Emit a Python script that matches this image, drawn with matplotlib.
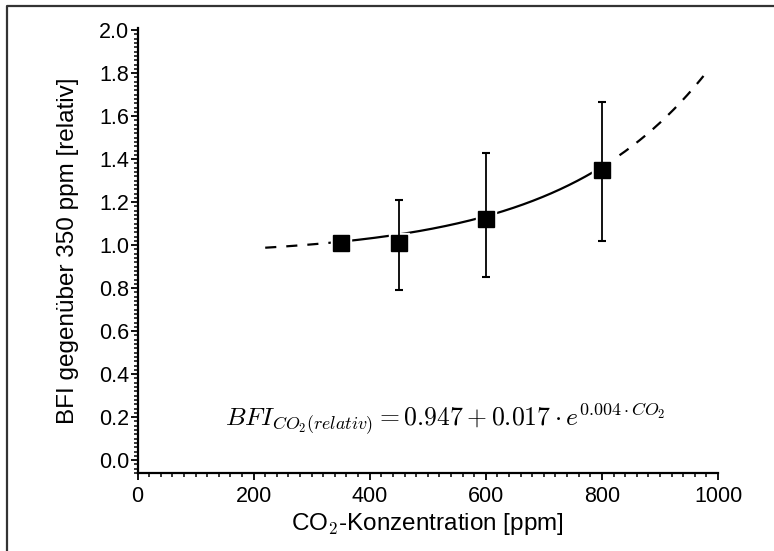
import numpy as np
import matplotlib
matplotlib.use("Agg")
import matplotlib.pyplot as plt
from matplotlib.lines import Line2D
from matplotlib.ticker import MultipleLocator

plt.rcParams['font.family'] = ['Liberation Sans', 'DejaVu Sans']
plt.rcParams['mathtext.fontset'] = 'cm'

# Data
co2 = [350, 450, 600, 800]
bfi = [1.01, 1.01, 1.12, 1.35]
err_low = [1.01, 0.79, 0.85, 1.02]
err_high = [1.01, 1.21, 1.43, 1.665]

# Fitted curve parameters (from the equation shown)
fit_a, fit_b, fit_c = 0.947, 0.017, 0.004
fit_start, fit_lo, fit_hi, fit_end = 220, 350, 800, 975

xticks = [0, 200, 400, 600, 800, 1000]
yticks = [0.0, 0.2, 0.4, 0.6, 0.8, 1.0, 1.2, 1.4, 1.6, 1.8, 2.0]

fig = plt.figure(figsize=(7.74, 5.51), dpi=100)
ax = fig.add_axes([137.5/774, (551-473)/551, (718-137.5)/774, (473-28)/551])

def fit(x):
    return fit_a + fit_b*np.exp(fit_c*x)

x1 = np.linspace(fit_start, fit_lo, 100)
x2 = np.linspace(fit_lo, fit_hi, 300)
x3 = np.linspace(fit_hi, fit_end, 200)
ax.plot(x1, fit(x1), color='black', lw=1.6, dashes=(5, 4.5), zorder=1)
ax.plot(x2, fit(x2), color='black', lw=1.6, zorder=1)
ax.plot(x3, fit(x3), color='black', lw=1.6, dashes=(5, 4.5), zorder=1)

bfi_a = np.array(bfi)
yerr = [bfi_a - np.array(err_low), np.array(err_high) - bfi_a]
# white halo around markers
ax.plot(co2, bfi, linestyle='none', marker='s', markersize=14, color='white', zorder=2)
ax.errorbar(co2, bfi, yerr=yerr, fmt='none', ecolor='black', elinewidth=1.3,
            capsize=3, capthick=1.5, zorder=3)
ax.plot(co2, bfi, linestyle='none', marker='s', markersize=11, color='black', zorder=4)

ax.set_xlim(0, 1000)
ax.set_ylim(-0.06, 2.01)
ax.set_xticks(xticks)
ax.set_yticks(yticks)
ax.set_yticklabels([f"{v:.1f}" for v in yticks])
ax.xaxis.set_minor_locator(MultipleLocator(20))
ax.yaxis.set_minor_locator(MultipleLocator(0.02))
ax.tick_params(which='major', direction='out', length=5, width=1.3, labelsize=15.5)
ax.tick_params(axis='x', which='major', pad=4)
ax.tick_params(axis='y', which='major', pad=1)
ax.tick_params(which='minor', direction='out', length=3, width=1.1)

for s in ['top', 'right']:
    ax.spines[s].set_visible(False)
for s in ['left', 'bottom']:
    ax.spines[s].set_linewidth(1.6)

ax.set_xlabel(r'CO$_{\mathsf{2}}$-Konzentration [ppm]', fontsize=17.5, labelpad=3)
ax.set_ylabel('BFI gegenüber 350 ppm [relativ]', fontsize=17.5, labelpad=14)

ax.text(531, 0.19, r'$BFI_{CO_2(relativ)} = 0.947 + 0.017 \cdot e^{0.004 \cdot CO_2}$',
        fontsize=18.5, ha='center', va='center')

# figure frame (top and left edges)
fig.add_artist(Line2D([7/774, 7/774, 1.0], [0.0, 1-6/551, 1-6/551],
                      transform=fig.transFigure, color='#333333', lw=1.6))

fig.savefig('out.png', dpi=100)
